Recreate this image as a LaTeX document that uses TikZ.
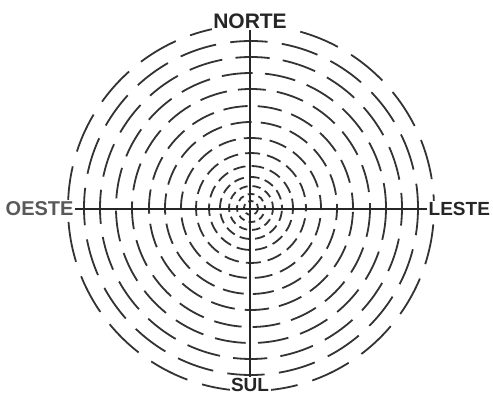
\documentclass[tikz,border=0pt]{standalone}
\usepackage{fontspec}
\setsansfont{Liberation Sans}
\usetikzlibrary{positioning}

\begin{document}
\begin{tikzpicture}[x=1pt, y=1pt,
  rotulo/.style={font=\sffamily\bfseries\fontsize{19}{19}\selectfont,
                 inner sep=1.5pt, fill=white, text=black!85},
  eixo/.style={line width=1.6pt, color=black!85},
  anel/.style={line width=1.8pt, color=black!80}]
  \useasboundingbox (0,0) rectangle (493,396);
  \coordinate (centro) at (251,188);
  \foreach \r/\fase in {7/1, 14/4, 22/2, 31/7, 42/3, 55/11, 70/5, 86/17,
                        102/9, 119/23, 135/6, 151/19, 167/13, 183/27}{
    \pgfmathsetmacro{\cheio}{4+0.2*\r}
    \pgfmathsetmacro{\vazio}{3.5+0.065*\r}
    \draw[anel, dash pattern=on \cheio pt off \vazio pt, dash phase=\fase pt]
      (centro) circle[radius=\r];
  }
  \node[rotulo, font=\sffamily\bfseries\fontsize{21}{21}\selectfont]
       (norte) at (250,375) {NORTE};
  \node[rotulo, anchor=west, text=black!65,
        font=\sffamily\bfseries\fontsize{20}{20}\selectfont]
       (oeste) at (4,187) {OESTE};
  \node[rotulo, anchor=west] (leste) at (427,187) {LESTE};
  \node[rotulo] (sul) at (250,11) {SUL};
  \draw[eixo] (oeste.east) -- (leste.west);
  \draw[eixo] (norte.south) -- (sul.north);
\end{tikzpicture}
\end{document}
